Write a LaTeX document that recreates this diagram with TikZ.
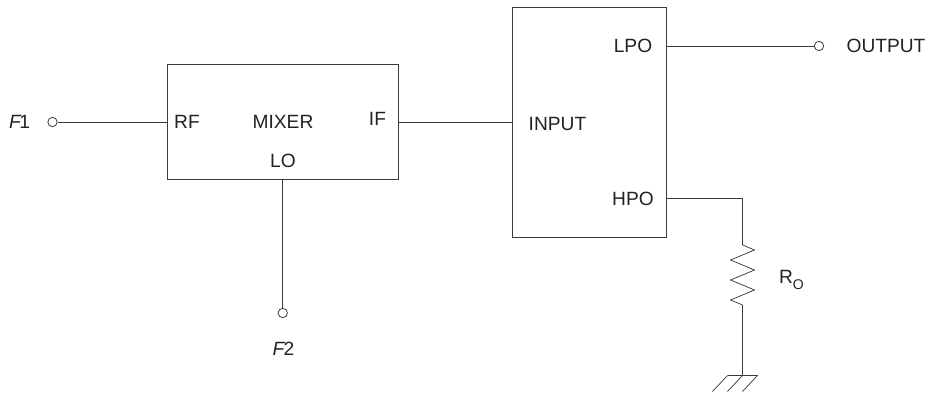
\documentclass[tikz,border=0pt]{standalone}
\usepackage{fontspec}
\setmainfont{Liberation Sans}
\usepackage{xcolor}
\usetikzlibrary{calc,positioning}
\definecolor{wirecol}{HTML}{3A3A3A}
\definecolor{labelcol}{HTML}{222222}
\begin{document}
\begin{tikzpicture}[
  x=0.75pt, y=-0.75pt,
  block/.style = {draw=wirecol, line width=0.7pt, inner sep=0pt},
  term/.style  = {circle, draw=wirecol, fill=white, line width=0.6pt,
                  minimum size=7pt, inner sep=0pt},
  lbl/.style   = {font=\fontsize{11.6}{14}\selectfont, text=labelcol,
                  inner sep=0pt, scale=1.24},
  wire/.style  = {line width=0.7pt, draw=wirecol},
  thin wire/.style = {line width=0.55pt, draw=wirecol},
]
\useasboundingbox (0,0) rectangle (932,395);
\node[block, minimum width=172.9pt, minimum height=85.9pt] (mixer) at (282.75,122) {};
\node[block, minimum width=115.5pt, minimum height=172.5pt] (filter) at (589,122) {};
% terminals
\node[term] (f1) at (52.5,122) {};
\node[term] (f2) at (282.75,313) {};
\node[term] (out) at (819,46) {};
% labels
\node[lbl] (f1lbl) at (19.5,122) {\textit{F}\kern-0.12em 1};
\node[lbl] (f2lbl) at (283.5,349) {\textit{F}\kern-0.08em 2};
\node[lbl] (rf) at (187,122) {RF};
\node[lbl] (mix) at (283,122) {MIXER};
\node[lbl] (lo) at (283,161) {LO};
\node[lbl] (if) at (377.5,119) {IF};
\node[lbl] (inp) at (557.5,124) {INPUT};
\node[lbl] (lpo) at (633,46) {LPO};
\node[lbl] (hpo) at (633,199) {HPO};
\node[lbl] (outlbl) at (886,46) {OUTPUT};
\node[lbl] (ro) at (791.5,280) {R\raisebox{-0.6ex}{\fontsize{8.5}{10}\selectfont O}};
% load resistor
\coordinate (hpoout) at (666,198.5);
\coordinate (rtop) at (742.5,245);
\coordinate (rbot) at (742.5,305);
\coordinate (gnd) at (742.5,375.5);
\coordinate (gndl) at (727.5,375.5);
\coordinate (gndr) at (757.5,375.5);
\draw[wire] (f1) -- (mixer.west);
\draw[wire] (mixer.east) -- (filter.west);
\draw[wire] (mixer.south) -- (f2);
\draw[wire] (filter.east |- out) -- (out);
\draw[wire] (hpoout) -| (rtop);
\draw[thin wire, line join=miter] (rtop) -- ++(12,5) -- ++(-24,10) -- ++(24,10) -- ++(-24,10)
  -- ++(24,10) -- ++(-24,10) -- (rbot);
\draw[wire] (rbot) -- (gnd);
\draw[thin wire] (gndl) -- (gndr);
\draw[thin wire] (gndl) -- ++(-15,16);
\draw[thin wire] (gnd) -- ++(-15,16);
\draw[thin wire] (gndr) -- ++(-15,16);
\end{tikzpicture}
\end{document}
